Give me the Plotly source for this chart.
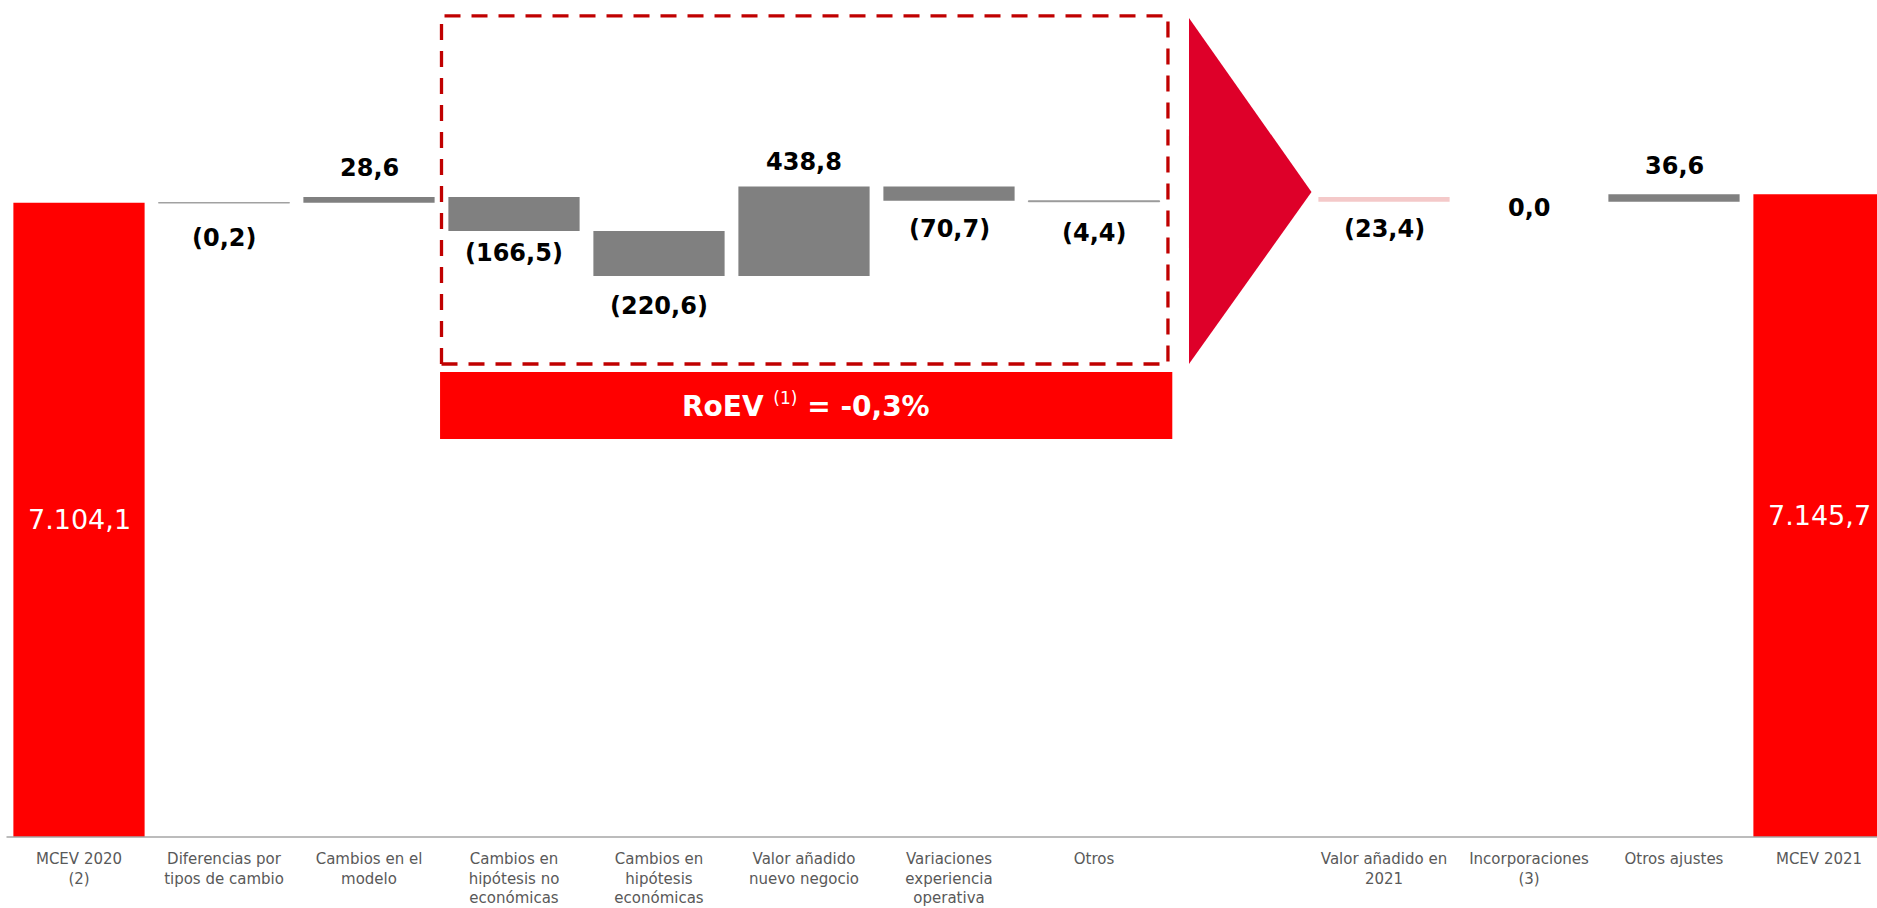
import plotly.graph_objects as go

# ---------------- data ----------------
categories = ["MCEV 2020<br>(2)", "Diferencias por<br>tipos de cambio", "Cambios en el<br>modelo",
              "Cambios en<br>hipótesis no<br>económicas", "Cambios en<br>hipótesis<br>económicas",
              "Valor añadido<br>nuevo negocio", "Variaciones<br>experiencia<br>operativa", "Otros", "",
              "Valor añadido en<br>2021", "Incorporaciones<br>(3)", "Otros ajustes", "MCEV 2021"]

mcev_values = [7104.1, 7145.7]          # MCEV 2020, MCEV 2021
step_values = [-0.2, 28.6]              # Diferencias por tipos de cambio, Cambios en el modelo
roev_values = [-166.5, -220.6, 438.8, -70.7, -4.4]   # items inside the RoEV box
roev_total = -23.4                      # Valor añadido en 2021
adjust_values = [0.0, 36.6]             # Incorporaciones, Otros ajustes
roev_pct = "-0,3%"

# ---------------- styles ----------------
RED = "#FF0000"
GREY = "#808080"
PINK = "#F4C9C9"
DARKRED = "#C00000"
TRI = "#DE0029"
FONT = "DejaVu Sans"
label_shifts = [-35, 29, -22, -30, 24, -28, -31, -27, -6, 28]   # px offsets of value labels

def fmt(v):
    s = f"{abs(v):,.1f}".replace(",", "X").replace(".", ",").replace("X", ".")
    return f"({s})" if v < 0 else s

# ---------------- build bars from data ----------------
y_min, y_max = 3995, 8098
bx, by, bbase, bcol, blw = [], [], [], [], []
labels = []  # (x, y, value)

level = mcev_values[0]
idx = 1
for v in step_values:
    bx.append(idx); by.append(v); bbase.append(level); bcol.append(GREY)
    blw.append(1 if abs(v) < 10 else 0)
    level += v
    labels.append((idx, level, v))
    idx += 1
box_start = level
for v in roev_values:
    bx.append(idx); by.append(v); bbase.append(level); bcol.append(GREY)
    blw.append(1 if abs(v) < 10 else 0)
    level += v
    labels.append((idx, level, v))
    idx += 1
idx += 1  # empty slot (arrow)
bx.append(idx); by.append(roev_total); bbase.append(box_start); bcol.append(PINK); blw.append(0)
labels.append((idx, box_start + roev_total, roev_total))
idx += 1
for v in adjust_values:
    bx.append(idx); by.append(v); bbase.append(level); bcol.append(GREY)
    blw.append(1 if 0 < abs(v) < 10 else 0)
    level += v
    labels.append((idx, level, v))
    idx += 1

fig = go.Figure()
fig.add_trace(go.Bar(x=[0, len(categories) - 1], y=mcev_values, marker=dict(color=RED, line=dict(width=0)),
                     width=0.905, hoverinfo="skip"))
fig.add_trace(go.Bar(x=bx, y=by, base=bbase, width=0.905,
                     marker=dict(color=bcol, line=dict(width=blw, color="#9A9A9A")), hoverinfo="skip"))

annotations = []
for (x, y, v), sh in zip(labels, label_shifts):
    annotations.append(dict(x=x, y=y, xref="x", yref="y", text=fmt(v), showarrow=False,
                            yanchor="middle", yshift=sh,
                            font=dict(family=FONT, size=24, color="#000000", weight="bold")))
for x, v in zip([0, len(categories) - 1], mcev_values):
    annotations.append(dict(x=x, y=(y_min + v) / 2, xref="x", yref="y", text=fmt(v), showarrow=False,
                            yanchor="middle", font=dict(family=FONT, size=27, color="#FFFFFF")))
annotations.append(dict(x=5.015, y=0.5155, xref="x", yref="paper", showarrow=False, yanchor="middle",
                        text="RoEV <sup><span style='font-size:17px;font-weight:normal'>(1)</span></sup> = " + roev_pct,
                        font=dict(family=FONT, size=28, color="#FFFFFF", weight="bold")))

shapes = [
    dict(type="rect", xref="x", yref="paper", x0=2.5, x1=7.51, y0=0.5651, y1=0.981,
         line=dict(color=DARKRED, width=3.3, dash="16px,11px"), fillcolor="rgba(0,0,0,0)"),
    dict(type="rect", xref="x", yref="paper", x0=2.49, x1=7.54, y0=0.4755, y1=0.5556,
         line=dict(width=0), fillcolor=RED, layer="below"),
    dict(type="path", xref="x", yref="paper",
         path="M 7.655,0.9785 L 8.50,0.7706 L 7.655,0.5651 Z", fillcolor=TRI, line=dict(width=0)),
    dict(type="line", xref="x", yref="paper", x0=-0.5, x1=12.4, y0=0, y1=0,
         line=dict(color="#A6A6A6", width=1.5)),
]

tick_idx = [i for i, c in enumerate(categories) if c]

fig.update_layout(
    width=1877, height=908,
    margin=dict(l=0, r=0, t=0, b=71),
    paper_bgcolor="white", plot_bgcolor="white",
    showlegend=False, barmode="overlay",
    annotations=annotations, shapes=shapes,
    xaxis=dict(range=[-0.5448, 12.4], tickmode="array", tickvals=tick_idx,
               ticktext=[categories[i] for i in tick_idx], showgrid=False, zeroline=False, showline=False,
               ticks="outside", ticklen=8, tickcolor="rgba(0,0,0,0)",
               tickfont=dict(family=FONT, size=15, color="#595959")),
    yaxis=dict(range=[y_min, y_max], showgrid=False, zeroline=False, showticklabels=False, showline=False),
)

fig.write_html("out.html", config={"displayModeBar": False},
               post_script="document.body.style.margin='0';")
